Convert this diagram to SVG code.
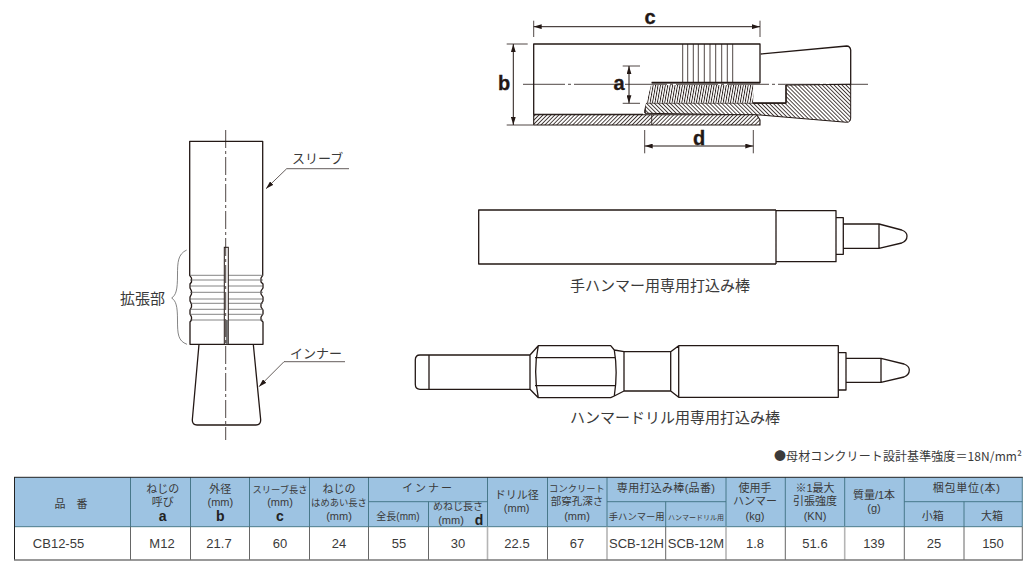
<svg xmlns="http://www.w3.org/2000/svg" width="1036" height="578" viewBox="0 0 1036 578">
<style>
.o{fill:none;stroke:#231815;stroke-width:1.3;stroke-linejoin:round}
.w{fill:#fff;stroke:#231815;stroke-width:1.3;stroke-linejoin:round}
.t{fill:none;stroke:#231815;stroke-width:.8}
.g{fill:none;stroke:#666;stroke-width:.8}
.c{fill:none;stroke:#231815;stroke-width:.8}
.d{fill:none;stroke:#231815;stroke-width:1;marker-start:url(#as);marker-end:url(#ae)}
.l{fill:none;stroke:#231815;stroke-width:.7;marker-end:url(#ae)}
text{font-family:"Liberation Sans","Noto Sans CJK JP",sans-serif;fill:#3a3a3a}
.big{font:700 20px "Liberation Sans",sans-serif;fill:#231815;stroke:#231815;stroke-width:.3;text-anchor:middle}
.cap{font-size:15px;text-anchor:middle}
.h{font-size:11px;text-anchor:middle}
.s{font:700 14px "Liberation Sans",sans-serif;fill:#222}
.n{font-size:9.300px}
.v{font:13px "Liberation Sans",sans-serif;fill:#3a3a3a;text-anchor:middle}
.hb{fill:#9dc3e2}
.tl{stroke:#3d6f80;stroke-width:.9;fill:none}
.dk{stroke:#555;stroke-width:.9;fill:none}
.lg{stroke:#b5b5b5;stroke-width:1.6;fill:none}
</style>
<defs>
<marker id="ae" viewBox="0 0 10 6" refX="10" refY="3" markerWidth="8" markerHeight="5" markerUnits="userSpaceOnUse" orient="auto"><path d="M0 0L10 3L0 6z" fill="#231815"/></marker>
<marker id="as" viewBox="0 0 10 6" refX="0" refY="3" markerWidth="8" markerHeight="5" markerUnits="userSpaceOnUse" orient="auto"><path d="M10 0L0 3L10 6z" fill="#231815"/></marker>
<pattern id="h1" width="2.800" height="2.800" patternUnits="userSpaceOnUse" patternTransform="rotate(45)"><rect width="2.800" height="2.800" fill="#fff"/><rect width=".8" height="2.800" fill="#231815"/></pattern>
<pattern id="h2" width="2.800" height="2.800" patternUnits="userSpaceOnUse" patternTransform="rotate(-45)"><rect width="2.800" height="2.800" fill="#fff"/><rect width=".8" height="2.800" fill="#231815"/></pattern>
<pattern id="h3" width="2.400" height="4" patternUnits="userSpaceOnUse" patternTransform="rotate(10)"><rect width="2.400" height="4" fill="#fff"/><rect width=".9" height="4" fill="#231815"/></pattern>
</defs>

<g id="section-view">
<path class="o" d="M760.700 54L846.700 46Q850 46 850.700 50V84.300"/>
<path d="M645 103H753V103.300H786V85H790L850.700 84.300V118Q850.700 122.300 846.700 122.300L760 115L645 113.300z" fill="url(#h2)" stroke="#231815" stroke-width="1"/>
<rect x="645" y="85" width="108.300" height="17.700" fill="url(#h3)"/>
<path class="o" d="M645 85V113M786 85V103H753"/>
<path class="w" d="M643 114.300H533.700V44H760V54V82.700H651.700"/>
<path class="t" d="M682.700 44V82M687.700 44V82M693.300 44V82M698.300 44V82M704.300 44V82M710 44V82M715.700 44V82M721.700 44V82M727.300 44V82M732.700 44V82"/>
<path class="o" style="stroke-width:1.800" d="M651.700 82.700H760"/>
<path d="M533.700 114.700H756.700L760 120V125H533.700z" fill="url(#h1)" stroke="#231815" stroke-width="1.100"/>
<path class="t" d="M651.700 114.700V125"/>
<path class="c" stroke-dasharray="42 3 3 3" d="M523 84.300H868"/>
<path class="t" d="M533.700 20.700V37M760 20.700V37M506.700 44H527.700M506.700 125H533M622.700 66H640M622.700 103.300H640M644.700 130V153.300M753.300 130V153.300"/>
<path class="d" d="M533.700 26.700H760"/>
<path class="d" d="M513.300 44V125"/>
<path class="d" d="M629 66V103.300"/>
<path class="d" d="M644.700 146H753.300"/>
<text class="big" x="650" y="24">c</text>
<text class="big" x="504" y="90">b</text>
<text class="big" x="619" y="90">a</text>
<text class="big" x="699" y="145">d</text>
</g>

<g id="anchor">
<path class="o" d="M199 344.300L192.300 420Q192.300 425 197 425H256Q260.700 425 260.700 420L253.300 344.300"/>
<path class="o" d="M189.700 275.300V141.300H262.700V275.300L261 278V282L263 284V288L261 291V294L263 297V301L261 304V307L263 310V314L261 317V320L263 322V344.300H190V322L191.500 320V317L190 314V310L191.500 307V304L190 301V297L191.500 294V291L190 288V284L191.500 282V278z"/>
<path class="g" d="M190 275.300H263M190 280H263M190 286H263M190 292.300H263M190 299H263M190 303.300H263M190 309.300H263M190 314.300H263M190 320H263"/>
<rect x="224.300" y="247.300" width="4" height="97" fill="#fff" stroke="#231815" stroke-width="1"/>
<rect x="225.800" y="320" width="2.500" height="24" fill="#777"/>
<path class="c" stroke-dasharray="18 3 3 3" d="M225.700 130V440"/>
<path class="g" d="M186.700 250C178 254 177.500 262 177.500 275C177.500 290 176 295 171.700 298C176 301 177.500 306 177.500 320C177.500 334 178 341 187 344.300"/>
<text x="120" y="304" font-size="15">拡張部</text>
<path class="l" d="M349 168.700H286.700L266 188.700"/>
<path class="l" d="M345 361.700H284L259 386.700"/>
<text x="292" y="163" font-size="13">スリーブ</text>
<text x="290" y="358" font-size="13">インナー</text>
</g>

<g id="hand-rod">
<path class="o" d="M776 210H478.700V264H776M776 210.700H836V261.700H776M776 210V264M836 217.700H843.300V254.300H836M843.300 224H879L901.700 230Q907 232 907 236Q907 241 901.700 243L879 248.300H843.300M879 224V248.300"/>
<text class="cap" x="660" y="291">手ハンマー用専用打込み棒</text>
</g>

<g id="drill-rod">
<path class="o" d="M530 355H420Q415.300 355 415.300 360V384.300Q415.300 389.300 420 389.300H530M429 355V389.300M530 355L538.300 345.700H610.700L614.300 350L624 351.700H670.700L678.700 345.700H838.300V397.300H678.700L670.700 391H624L614.300 396L610.700 397.700H538.300L530 389.300M530 355V389.300M538.300 345.700Q533 372 538.300 397.700M535 357.700H615M535 385.700H615M614.300 350Q618 372 614.300 396M624 351.700V391M670.700 351.700V391M678.700 345.700V397.300M838.300 352.700H846V390H838.300M846 358.300H881L904 364Q909.300 366 909.300 370Q909.300 375 904 377L881 382.300H846M881 358.300V382.300"/>
<text class="cap" x="675" y="423">ハンマードリル用専用打込み棒</text>
</g>

<g id="note"><text x="774" y="461" font-size="12" textLength="248" lengthAdjust="spacing" style="font-family:'Noto Sans CJK JP','Liberation Sans',sans-serif">●母材コンクリート設計基準強度＝18N/mm²</text></g>

<g id="spec-table">
<rect class="hb" x="14.500" y="477.300" width="1007.800" height="49.400"/>
<path class="tl" d="M14.500 526.700H1022.300M368.500 501.700H487.500M607 501.700H726M904.300 501.700H1022.300M1022.300 477.300V526.700"/>
<path class="tl" d="M130.500 477.300V526.700M190.500 477.300V526.700M249.500 477.300V526.700M309.500 477.300V526.700M368.500 477.300V526.700M428.500 501.700V526.700M487.500 477.300V526.700M547.500 477.300V526.700M607 477.300V526.700M665.700 501.700V526.700M726 477.300V526.700M785.300 477.300V526.700M844.700 477.300V526.700M904.300 477.300V526.700M964 501.700V526.700"/>
<path class="dk" d="M130.500 526.700V560M190.500 526.700V560M249.500 526.700V560M309.500 526.700V560M368.500 526.700V560M428.500 526.700V560M547.500 526.700V560M665.700 526.700V560M785.300 526.700V560M904.300 526.700V560M964 526.700V560M1022.300 526.700V560"/>
<path class="lg" d="M487.500 526.700V560M607 526.700V560M726 526.700V560M844.700 526.700V560"/>
<path d="M14 477.300H1022.800" stroke="#222" stroke-width="1" fill="none"/>
<path d="M14.500 477V560" stroke="#222" stroke-width="1" fill="none"/>
<path d="M14 560H1022.800" stroke="#777" stroke-width="1.500" fill="none"/>

<text class="h" x="71" y="507.500">品　番</text>
<text class="h"><tspan x="162.700" y="493">ねじの</tspan><tspan x="162.700" y="506">呼び</tspan><tspan class="s" x="162.700" y="521">a</tspan></text>
<text class="h"><tspan x="220.300" y="493">外径</tspan><tspan x="220.300" y="506">(mm)</tspan><tspan class="s" x="220.300" y="521">b</tspan></text>
<text class="h"><tspan class="n" x="280" y="493">スリーブ長さ</tspan><tspan x="280" y="506">(mm)</tspan><tspan class="s" x="280" y="521">c</tspan></text>
<text class="h"><tspan x="339" y="493">ねじの</tspan><tspan class="n" x="339" y="506">はめあい長さ</tspan><tspan x="339" y="520">(mm)</tspan></text>
<text class="h" x="428" y="492" letter-spacing="2">インナー</text>
<text class="h" x="398" y="520" style="font-size:10px">全長(mm)</text>
<text class="h"><tspan class="n" x="458" y="510" style="font-size:10px">めねじ長さ</tspan><tspan x="451" y="524">(mm)</tspan><tspan class="s" x="479" y="524.500">d</tspan></text>
<text class="h"><tspan x="516.700" y="499">ドリル径</tspan><tspan x="516.700" y="512">(mm)</tspan></text>
<text class="h"><tspan class="n" x="577" y="491.700">コンクリート</tspan><tspan class="n" x="577" y="504.500" style="font-size:10.500px">部穿孔深さ</tspan><tspan x="577" y="520">(mm)</tspan></text>
<text class="h" x="666" y="492" letter-spacing=".3">専用打込み棒(品番)</text>
<text class="h" x="636.700" y="520" style="font-size:9.300px">手ハンマー用</text>
<text class="h" x="696" y="520" style="font-size:7px">ハンマードリル用</text>
<text class="h"><tspan x="755" y="491.700">使用手</tspan><tspan x="755" y="504.500">ハンマー</tspan><tspan x="755" y="520">(kg)</tspan></text>
<text class="h"><tspan x="815" y="491.700">※1最大</tspan><tspan x="815" y="504.500">引張強度</tspan><tspan x="815" y="520">(KN)</tspan></text>
<text class="h"><tspan x="874" y="499">質量/1本</tspan><tspan x="874" y="512">(g)</tspan></text>
<text class="h" x="966.700" y="492" letter-spacing=".8">梱包単位(本)</text>
<text class="h" x="932.700" y="520">小箱</text><text class="h" x="992" y="520">大箱</text>

<text class="v" x="58.500" y="547.500">CB12-55</text>
<text class="v" x="162" y="547.500">M12</text>
<text class="v" x="219" y="547.500">21.7</text>
<text class="v" x="280" y="547.500">60</text>
<text class="v" x="339" y="547.500">24</text>
<text class="v" x="399" y="547.500">55</text>
<text class="v" x="458" y="547.500">30</text>
<text class="v" x="517" y="547.500">22.5</text>
<text class="v" x="577" y="547.500">67</text>
<text class="v" x="636.500" y="547.500">SCB-12H</text>
<text class="v" x="696" y="547.500">SCB-12M</text>
<text class="v" x="755" y="547.500">1.8</text>
<text class="v" x="815" y="547.500">51.6</text>
<text class="v" x="874" y="547.500">139</text>
<text class="v" x="934" y="547.500">25</text>
<text class="v" x="993" y="547.500">150</text>
</g>
</svg>
